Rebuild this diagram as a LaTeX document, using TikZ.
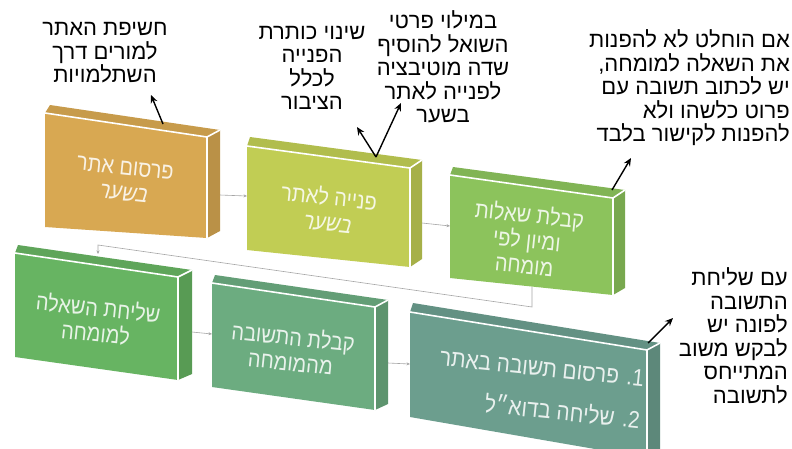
\documentclass[tikz,border=0pt]{standalone}
\usepackage{fontspec}
\usetikzlibrary{arrows.meta}
\TeXXeTstate=1
\newfontfamily\hebfont[Script=Hebrew]{Liberation Sans}
\newfontfamily\boxfont[Script=Hebrew,FakeStretch=0.87]{Liberation Sans}
\newfontfamily\boxslfont[Script=Hebrew,FakeStretch=0.87,FakeSlant=0.2]{Liberation Sans}
\newcommand\heb[1]{\beginR#1\endR}
\definecolor{cA}{RGB}{216,168,82}
\definecolor{cB}{RGB}{193,205,84}
\definecolor{cC}{RGB}{140,195,92}
\definecolor{cD}{RGB}{103,180,98}
\definecolor{cE}{RGB}{108,172,128}
\definecolor{cF}{RGB}{108,158,142}
\newcommand\mybox[9]{%
  \coordinate (#1-ftl) at (#3);
  \coordinate (#1-ftr) at (#4);
  \coordinate (#1-fbr) at (#5);
  \coordinate (#1-fbl) at (#6);
  \coordinate (#1-btl) at (#7);
  \coordinate (#1-btr) at (#8);
  \coordinate (#1-bbr) at (#9);
  \fill[#2!92!black] (#1-ftl) -- (#1-btl) -- (#1-btr) -- (#1-ftr) -- cycle;
  \fill[#2!86!black] (#1-ftr) -- (#1-btr) -- (#1-bbr) -- (#1-fbr) -- cycle;
  \fill[#2] (#1-ftl) -- (#1-ftr) -- (#1-fbr) -- (#1-fbl) -- cycle;
  \draw[white, line width=1.6pt, line join=round] (#1-ftl) -- (#1-ftr) -- (#1-fbr) (#1-ftr) -- (#1-btr);
}
\tikzset{
  boxtext/.style={text=white, text opacity=0.85, font=\boxfont\fontsize{23}{25.5}\selectfont, align=center, inner sep=0pt, rotate=-6},
  callout/.style={font=\hebfont\fontsize{22}{23.5}\selectfont, inner sep=0pt, text=black},
  flow/.style={draw=gray!70, line width=0.6pt, -{Stealth[length=3.5pt,width=3pt]}},
  pointer/.style={draw=black, line width=1.4pt, -{Stealth[length=8pt,width=7pt]}},
}
\begin{document}
\begin{tikzpicture}[x=1pt,y=-1pt]
\useasboundingbox (0,0) rectangle (792,448);
\fill[white] (0,0) rectangle (792,448);
\clip (0,0) rectangle (792,448);

\mybox{b1}{cA}{45,113}{207,137}{207,238}{45,227}{50,105}{220,130}{220,231}
\mybox{b2}{cB}{247,146}{410,168}{410,267}{247,250}{250,137}{422,160}{422,259}
\mybox{b3}{cC}{450,175}{613,198}{613,295}{450,278}{453,167}{625,190}{625,288}
\mybox{b4}{cD}{15,253}{178,277}{178,380}{15,357}{18,245}{192,270}{192,374}
\mybox{b5}{cE}{212,283}{375,307}{375,410}{212,387}{215,275}{388,300}{388,404}
\mybox{b6}{cF}{410,312}{647,350}{647,458}{410,417}{413,303}{660,343}{660,452}

\node[boxtext] (t1) at (124,181) {\heb{פרסום אתר}\\{\boxslfont\heb{בשער}}};
\node[boxtext] (t2) at (328,209) {\heb{פנייה לאתר}\\{\boxslfont\heb{בשער}}};
\node[boxtext] (t3) at (527,239) {\heb{קבלת שאלות}\\\heb{ומיון לפי}\\\heb{מומחה}};
\node[boxtext] (t4) at (97,320) {\heb{שליחת השאלה}\\\heb{למומחה}};
\node[boxtext] (t5) at (292,349) {\heb{קבלת התשובה}\\\heb{מהמומחה}};
\node[boxtext, align=right, font=\boxfont\fontsize{24}{26}\selectfont] (t6) at (540,389) {\heb{1. פרסום תשובה באתר}\\[16pt]\heb{2. שליחה בדוא״ל}};

\coordinate (o1) at (220,195); \coordinate (i2) at (247,196);
\coordinate (o2) at (422,223); \coordinate (i3) at (450,226);
\coordinate (o3) at (532,287); \coordinate (k1) at (532,307);
\coordinate (k2) at (98,245); \coordinate (i4) at (98,254);
\coordinate (o4) at (192,332); \coordinate (i5) at (212,334);
\coordinate (o5) at (388,363); \coordinate (i6) at (410,364);
\draw[flow] (o1) -- (i2);
\draw[flow] (o2) -- (i3);
\draw[flow] (o3) -- (k1) -- (k2) -- (i4);
\draw[flow] (o4) -- (i5);
\draw[flow] (o5) -- (i6);

\node[callout, align=center] (c1) at (105,53) {\heb{חשיפת האתר}\\\heb{למורים דרך}\\\heb{השתלמויות}};
\node[callout, align=center] (c2) at (312,68) {\heb{שינוי כותרת}\\\heb{הפנייה}\\\heb{לכלל}\\\heb{הציבור}};
\node[callout, align=center] (c3) at (443,67) {\heb{במילוי פרטי}\\\heb{השואל להוסיף}\\\heb{שדה מוטיבציה}\\\heb{לפנייה לאתר}\\\heb{בשער}};
\node[callout, align=right, anchor=east] (c4) at (790,88) {\heb{אם הוחלט לא להפנות}\\\heb{את השאלה למומחה,}\\\heb{יש לכתוב תשובה עם}\\\heb{פרוט כלשהו ולא}\\\heb{להפנות לקישור בלבד}};
\node[callout, align=right, anchor=east] (c5) at (788,336) {\heb{עם שליחת}\\\heb{התשובה}\\\heb{לפונה יש}\\\heb{לבקש משוב}\\\heb{המתייחס}\\\heb{לתשובה}};

\coordinate (s1) at (163,124); \coordinate (e1) at (151,95);
\coordinate (s2) at (376,157); \coordinate (e2a) at (357,127); \coordinate (e2b) at (401,103);
\coordinate (s3) at (612,190); \coordinate (e3) at (631,158);
\coordinate (s6) at (648,343); \coordinate (e6) at (673,318);
\draw[pointer] (s1) -- (e1);
\draw[pointer] (s2) -- (e2a);
\draw[pointer] (s2) -- (e2b);
\draw[pointer] (s3) -- (e3);
\draw[pointer] (s6) -- (e6);
\end{tikzpicture}
\end{document}
